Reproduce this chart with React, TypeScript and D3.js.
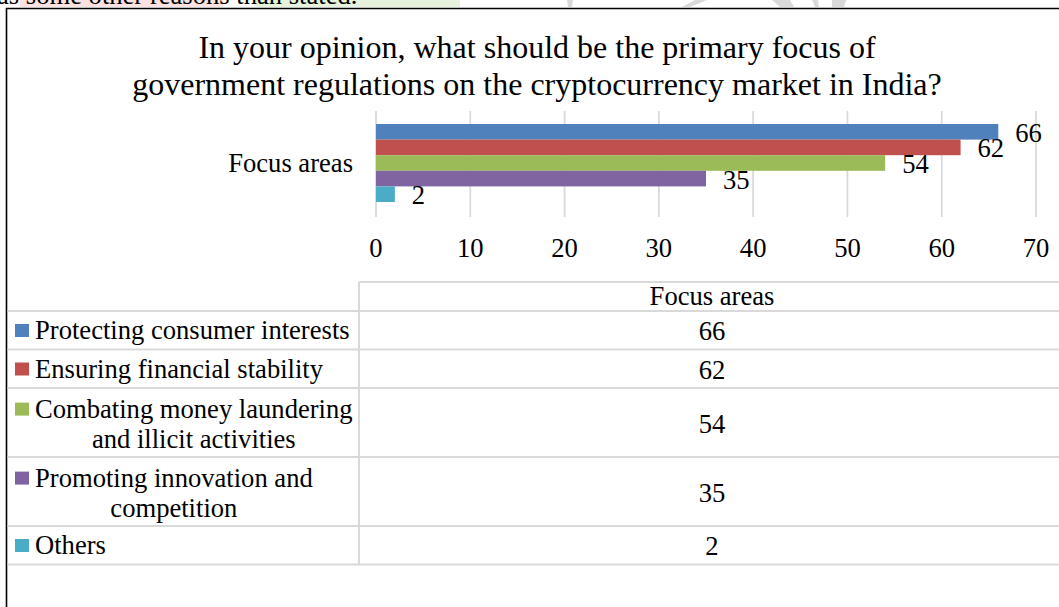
import React, { useEffect, useRef } from "react";
import * as d3 from "d3";

const categoryLines: string[][] = [
  ["Protecting consumer interests"],
  ["Ensuring financial stability"],
  ["Combating money laundering", "and illicit activities"],
  ["Promoting innovation and", "competition"],
  ["Others"],
];
const values = [66, 62, 54, 35, 2];
const colors = ["#4f81bd", "#c0504d", "#9bbb59", "#8064a2", "#4bacc6"];
const xTicks = [0, 10, 20, 30, 40, 50, 60, 70];
const titleLines = [
  "In your opinion, what should be the primary focus of",
  "government regulations on the cryptocurrency market in India?",
];
const axisCategory = "Focus areas";
const topText = "as some other reasons than stated.";

const W = 1059;
const H = 607;
const FONT = "'Liberation Serif', 'Times New Roman', serif";
const FS = 26.6;

export default function App() {
  const ref = useRef<SVGSVGElement | null>(null);

  useEffect(() => {
    const svg = d3.select(ref.current);
    svg.selectAll("*").remove();

    svg.append("rect").attr("x", 0).attr("y", 0).attr("width", W).attr("height", H).attr("fill", "#fff");

    // watermark fragments at the top
    svg.append("rect").attr("x", 20).attr("y", 0).attr("width", 203).attr("height", 7).attr("fill", "#fde2e2");
    svg.append("rect").attr("x", 255).attr("y", 0).attr("width", 205).attr("height", 7).attr("fill", "#e6f2dc");
    const greys: [number, number][][] = [
      [[567, 0], [573, 0], [572, 7], [568, 7]],
      [[695, 0], [707, 0], [690, 7], [682, 7]],
      [[772, 0], [790, 0], [794, 7], [780, 7]],
      [[812, 0], [818, 0], [819, 7], [815, 7]],
      [[832, 0], [846, 0], [844, 7], [832, 7]],
    ];
    greys.forEach((p) =>
      svg.append("polygon").attr("points", p.map((q) => q.join(",")).join(" ")).attr("fill", "#d9d9d9")
    );

    svg.append("text").attr("x", -3).attr("y", 4).attr("font-family", FONT).attr("font-size", FS)
      .attr("fill", "#000").text(topText);

    // outer border
    svg.append("path").attr("d", `M6.5,${H} L6.5,8.5 L${W},8.5`).attr("fill", "none")
      .attr("stroke", "#000").attr("stroke-width", 1.6);

    // title
    titleLines.forEach((t, i) => {
      svg.append("text").attr("x", 537).attr("y", 57.5 + i * 37).attr("text-anchor", "middle")
        .attr("font-family", FONT).attr("font-size", 32).attr("fill", "#000").text(t);
    });

    // plot
    const x = d3.scaleLinear().domain([0, 70]).range([376, 1036]);
    const plotTop = 111;
    const plotBottom = 217;
    const y = d3.scaleBand<number>().domain(values.map((_, i) => i)).range([124, 202]).padding(0);

    svg.append("g").selectAll("line").data(xTicks).join("line")
      .attr("x1", (d) => x(d)).attr("x2", (d) => x(d))
      .attr("y1", plotTop).attr("y2", plotBottom)
      .attr("stroke", "#d9d9d9").attr("stroke-width", 1.8);

    svg.append("g").selectAll("rect").data(values).join("rect")
      .attr("x", x(0)).attr("y", (_, i) => y(i)!)
      .attr("width", (d) => x(d) - x(0)).attr("height", y.bandwidth())
      .attr("fill", (_, i) => colors[i]);

    svg.append("g").selectAll("text").data(values).join("text")
      .attr("x", (d) => x(d) + 17).attr("y", (_, i) => y(i)! + y.bandwidth() / 2 + 10)
      .attr("font-family", FONT).attr("font-size", FS).attr("fill", "#000")
      .text((d) => String(d));

    svg.append("g").selectAll("text").data(xTicks).join("text")
      .attr("x", (d) => x(d)).attr("y", 257).attr("text-anchor", "middle")
      .attr("font-family", FONT).attr("font-size", FS).attr("fill", "#000")
      .text((d) => String(d));

    svg.append("text").attr("x", 353).attr("y", 171.5).attr("text-anchor", "end")
      .attr("font-family", FONT).attr("font-size", FS).attr("fill", "#000").text(axisCategory);

    // data table
    const tableTop = 282;
    const headerBottom = 311;
    const sepX = 359;
    const valX = 712;
    const lineH = 30.5;
    const rowPad = 8;
    const gridColor = "#d9d9d9";
    const tbl = svg.append("g");

    const rowTops: number[] = [];
    let yy = headerBottom;
    categoryLines.forEach((lines) => {
      rowTops.push(yy);
      yy += rowPad + lineH * lines.length;
    });
    const tableBottom = yy;

    tbl.append("text").attr("x", valX).attr("y", 305).attr("text-anchor", "middle")
      .attr("font-family", FONT).attr("font-size", FS).attr("fill", "#000").text(axisCategory);

    categoryLines.forEach((lines, i) => {
      const top = rowTops[i];
      const h = rowPad + lineH * lines.length;
      const firstBase = top + (lines.length === 1 ? 28 : 29.6);
      tbl.append("rect").attr("x", 15).attr("y", firstBase - 15).attr("width", 14).attr("height", 13)
        .attr("fill", colors[i]);
      const texts = lines.map((l, j) =>
        tbl.append("text").attr("y", firstBase + j * lineH).attr("font-family", FONT)
          .attr("font-size", FS).attr("fill", "#000").text(l)
      );
      const widths = texts.map((t) => (t.node() as SVGTextElement).getComputedTextLength());
      const maxW = Math.max(...widths);
      texts.forEach((t) => t.attr("x", 35 + maxW / 2).attr("text-anchor", "middle"));

      tbl.append("text").attr("x", valX).attr("y", top + h / 2 + 10).attr("text-anchor", "middle")
        .attr("font-family", FONT).attr("font-size", FS).attr("fill", "#000").text(String(values[i]));
    });

    const hLines = [headerBottom, ...rowTops.slice(1), tableBottom];
    tbl.append("line").attr("x1", sepX).attr("x2", W).attr("y1", tableTop).attr("y2", tableTop)
      .attr("stroke", gridColor).attr("stroke-width", 2);
    hLines.forEach((ly) =>
      tbl.append("line").attr("x1", 7.5).attr("x2", W).attr("y1", ly).attr("y2", ly)
        .attr("stroke", gridColor).attr("stroke-width", 2)
    );
    tbl.append("line").attr("x1", sepX).attr("x2", sepX).attr("y1", tableTop).attr("y2", tableBottom)
      .attr("stroke", gridColor).attr("stroke-width", 2);
  }, []);

  return (
    <svg
      ref={ref}
      width={W}
      height={H}
      style={{ position: "absolute", left: 0, top: 0, display: "block" }}
    />
  );
}
